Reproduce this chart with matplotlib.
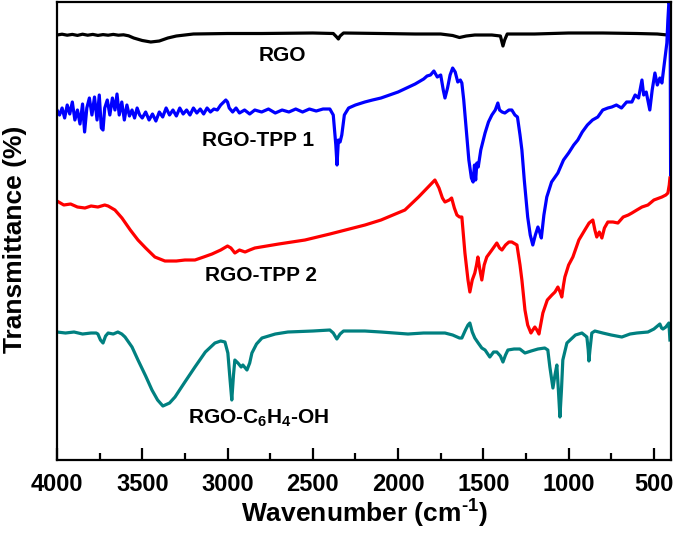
import matplotlib
matplotlib.use('Agg')
import matplotlib.pyplot as plt

plt.rcParams['font.family'] = ['Liberation Sans', 'DejaVu Sans']
plt.rcParams['font.weight'] = 'bold'
plt.rcParams['mathtext.fontset'] = 'custom'
plt.rcParams['mathtext.rm'] = 'Liberation Sans:bold'
plt.rcParams['mathtext.it'] = 'Liberation Sans:bold'
plt.rcParams['mathtext.bf'] = 'Liberation Sans:bold'
plt.rcParams['mathtext.default'] = 'rm'

# spectra (wavenumber, transmittance in arbitrary offset units)
rgo_wn = [4000, 3970, 3940, 3910, 3880, 3850, 3820, 3790, 3760, 3730, 3700, 3670, 3640,
          3610, 3580, 3550, 3500, 3450, 3400, 3350, 3300, 3250, 3200, 3000, 2800, 2500,
          2380, 2360, 2350, 2340, 2320, 2100, 1900, 1750, 1680, 1640, 1600, 1550, 1450,
          1400, 1385, 1375, 1360, 1200, 1000, 800, 600, 480, 420, 405]
rgo_t = [425, 425.8, 424.8, 425.6, 424.6, 425.8, 424.8, 425.6, 424.6, 425.4, 424.8, 425.6, 424.8,
         425.2, 424.2, 422, 419.5, 418, 419, 422, 424, 425, 426, 426.5, 426.5, 427,
         426.5, 423, 421, 424, 427, 426.5, 426, 426, 424.5, 422.5, 424, 425, 425,
         424, 414, 420, 426, 426, 427, 427, 426.5, 426, 425, 423]

tpp1_wn = [4000, 3985, 3970, 3955, 3940, 3925, 3910, 3895, 3880, 3865, 3850, 3838, 3825,
           3810, 3795, 3780, 3765, 3752, 3740, 3730, 3720, 3705, 3690, 3675, 3660, 3648,
           3635, 3620, 3605, 3590, 3575, 3560, 3545, 3530, 3515, 3500, 3480, 3460, 3440,
           3420, 3400, 3380, 3360, 3340, 3320, 3300, 3280, 3260, 3240, 3220, 3200, 3180,
           3160, 3140, 3120, 3100, 3080, 3060, 3040, 3010, 3000, 2990, 2970, 2950, 2930,
           2900, 2870, 2840, 2800, 2760, 2720, 2680, 2640, 2600, 2560, 2520, 2480, 2440,
           2400, 2380, 2365, 2358, 2350, 2340, 2330, 2315, 2290, 2250, 2195, 2150, 2100,
           2050, 2000, 1950, 1900, 1870, 1850, 1830, 1810, 1790, 1770, 1750, 1735, 1725,
           1710, 1695, 1680, 1665, 1650, 1635, 1626, 1615, 1600, 1585, 1570, 1560, 1552,
           1545, 1538, 1530, 1515, 1500, 1490, 1470, 1450, 1430, 1415, 1405, 1390, 1374,
           1350, 1333, 1315, 1300, 1285, 1274, 1260, 1240, 1225, 1210, 1195, 1180, 1170,
           1160, 1145, 1128, 1100, 1063, 1030, 1000, 970, 946, 920, 890, 860, 829, 800,
           770, 747, 720, 690, 660, 629, 610, 590, 570, 560, 545, 524, 510, 494, 480,
           465, 453, 440, 424, 418, 412, 405, 402]
tpp1_t = [350, 345, 352, 342, 355, 346, 358, 340, 350, 336, 356, 328, 352,
          362, 345, 363, 340, 365, 332, 330, 352, 360, 345, 362, 350, 366,
          345, 358, 340, 355, 344, 350, 342, 352, 345, 342, 348, 340, 346,
          339, 348, 343, 352, 345, 350, 344, 352, 346, 350, 345, 352, 347,
          351, 346, 352, 348, 351, 350, 355, 360, 358, 352, 348, 352, 347,
          350, 346, 350, 348, 351, 347, 350, 348, 351, 348, 351, 349, 351,
          351, 345, 315, 295, 320, 318, 325, 345, 352, 355, 358, 360, 362,
          365, 368, 372, 376, 379, 381, 384, 385, 389, 383, 385, 370, 362,
          372, 385, 392, 388, 378, 380, 377, 360, 330, 300, 282, 278, 295,
          280, 297, 293, 310, 320, 327, 338, 345, 350, 357, 350, 348, 347,
          350, 350, 345, 343, 325, 310, 280, 243, 225, 215, 225, 233, 228,
          222, 245, 263, 278, 287, 300, 307, 315, 320, 328, 335, 340, 343, 350,
          352, 353, 355, 352, 358, 358, 365, 362, 380, 365, 368, 350, 370, 387, 375,
          382, 377, 395, 417, 440, 458, 455, 285]

tpp2_wn = [4000, 3960, 3920, 3880, 3836, 3800, 3760, 3720, 3700, 3660, 3619, 3570, 3525,
           3480, 3426, 3367, 3300, 3250, 3191, 3140, 3091, 3040, 3000, 2980, 2957, 2930,
           2897, 2870, 2840, 2700, 2546, 2400, 2194, 2100, 1960, 1880, 1784, 1760, 1740,
           1725, 1700, 1686, 1670, 1655, 1640, 1626, 1608, 1590, 1579, 1565, 1550, 1540,
           1532, 1520, 1509, 1495, 1480, 1450, 1421, 1405, 1391, 1370, 1350, 1333, 1303,
           1285, 1274, 1256, 1240, 1221, 1210, 1198, 1186, 1174, 1151, 1125, 1098, 1080,
           1063, 1050, 1040, 1030, 1022, 1000, 975, 940, 905, 880, 858, 846, 835, 820,
           805, 790, 770, 740, 711, 680, 650, 629, 600, 570, 535, 500, 453, 430, 418,
           410, 406]
tpp2_t = [259, 255, 256, 253, 252, 254, 253, 255, 254, 250, 242, 230, 220,
          212, 203, 199, 199, 200, 200, 203, 206, 210, 214, 212, 207, 210,
          208, 210, 212, 216, 220, 226, 235, 240, 250, 263, 280, 272, 262,
          258, 260, 262, 252, 245, 243, 243, 207, 180, 168, 180, 187, 195,
          203, 190, 180, 195, 203, 210, 217, 212, 210, 215, 218, 218, 215,
          195, 180, 150, 135, 127, 130, 133, 130, 126, 147, 160, 165, 168,
          173, 168, 163, 175, 183, 195, 203, 220, 230, 237, 240, 230, 223, 228,
          222, 232, 238, 238, 237, 243, 245, 247, 250, 253, 255, 260, 263, 265, 267,
          275, 282]

c6h4_wn = [4000, 3950, 3900, 3850, 3800, 3770, 3760, 3745, 3730, 3715, 3700, 3670, 3643,
           3620, 3601, 3560, 3525, 3480, 3443, 3410, 3379, 3340, 3308, 3250, 3191, 3130,
           3074, 3040, 3015, 2998, 2985, 2975, 2965, 2957, 2945, 2939, 2920, 2910, 2886,
           2870, 2857, 2830, 2798, 2720, 2646, 2500, 2400, 2380, 2359, 2340, 2320, 2294,
           2195, 2100, 1942, 1850, 1725, 1680, 1640, 1626, 1605, 1590, 1579, 1565, 1550,
           1530, 1509, 1490, 1462, 1440, 1421, 1400, 1385, 1370, 1356, 1320, 1286, 1256,
           1220, 1180, 1140, 1122, 1110, 1092, 1080, 1069, 1060, 1051, 1042, 1034, 1010,
           960, 922, 900, 893, 885, 881, 875, 864, 846, 800, 750, 688, 640, 600, 535,
           500, 465, 455, 447, 430, 412, 406]
c6h4_t = [128, 127, 128, 126, 127, 127, 126, 120, 117, 124, 127, 126, 128,
          126, 123, 113, 100, 84, 70, 60, 54, 57, 63, 78, 93, 108,
          117, 119, 118, 107, 80, 60, 85, 100, 98, 97, 93, 95, 90,
          97, 107, 116, 122, 126, 128, 129, 130, 127, 121, 126, 129, 129,
          129, 128, 126, 127, 127, 125, 122, 122, 130, 135, 137, 128, 122,
          117, 112, 110, 103, 108, 108, 104, 98, 105, 110, 111, 111, 107,
          109, 111, 112, 110, 93, 72, 85, 95, 70, 43, 70, 100, 117,
          125, 127, 124, 123, 110, 99, 110, 127, 129, 127, 125, 123, 126, 127, 128,
          131, 136, 132, 131, 133, 137, 120]

series = [
    (rgo_wn, rgo_t, 'black', 'RGO', 2681, 405),
    (tpp1_wn, tpp1_t, '#0000ff', 'RGO-TPP 1', 2822, 320),
    (tpp2_wn, tpp2_t, '#ff0000', 'RGO-TPP 2', 2804, 185),
    (c6h4_wn, c6h4_t, '#008080', 'RGO-C$_6$H$_4$-OH', 2816, 42),
]

fig = plt.figure(figsize=(6.75, 5.41), dpi=100)
ax = fig.add_axes([0.0844, 0.1497, 0.9096, 0.8466])

for wn, t, color, name, lx, ly in series:
    ax.plot(wn, t, color=color, lw=2.3, solid_joinstyle='round')
    ax.text(lx, ly, name, fontsize=15, fontweight='bold', ha='center', va='center')

ax.set_xlim(4000, 400)
ax.set_ylim(0, 458)
ax.set_xticks([4000, 3500, 3000, 2500, 2000, 1500, 1000, 500])
ax.set_xticks([3750, 3250, 2750, 2250, 1750, 1250, 750], minor=True)
ax.set_yticks([])
ax.tick_params(axis='x', which='major', direction='in', length=9, width=1.6,
               labelsize=17, pad=9)
ax.tick_params(axis='x', which='minor', direction='in', length=5, width=1.6)
for tl in ax.get_xticklabels():
    tl.set_fontweight('bold')
for sp in ax.spines.values():
    sp.set_linewidth(1.6)

ax.set_xlabel('Wavenumber (cm$^{\u2010 1}$)', fontsize=19, fontweight='bold', labelpad=2)
fig.text(0.022, 0.558, 'Transmittance (%)', rotation=90, fontsize=19,
         fontweight='bold', ha='center', va='center')

fig.savefig('out.png', dpi=100)
